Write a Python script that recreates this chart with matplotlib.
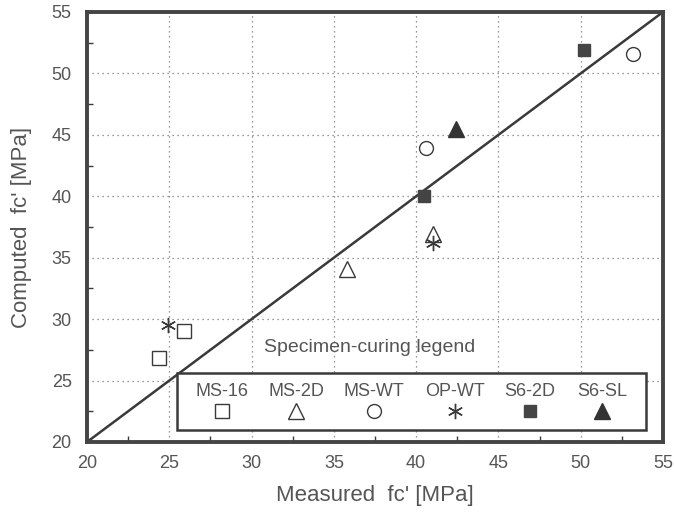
import matplotlib
matplotlib.use("Agg")
import matplotlib.pyplot as plt
from matplotlib.patches import Rectangle
from matplotlib.ticker import MultipleLocator

plt.rcParams['font.family'] = ['Liberation Sans', 'DejaVu Sans']

# Data
series_names = ["MS-16", "MS-2D", "MS-WT", "OP-WT", "S6-2D", "S6-SL"]
ms16_x = [24.4, 25.9]
ms16_y = [26.8, 29.0]
ms2d_x = [35.8, 41.0]
ms2d_y = [34.1, 36.9]
mswt_x = [40.6, 53.2]
mswt_y = [43.9, 51.6]
opwt_x = [24.9, 41.0]
opwt_y = [29.5, 36.2]
s62d_x = [40.5, 50.2]
s62d_y = [40.0, 51.9]
s6sl_x = [42.4]
s6sl_y = [45.5]
line_vals = [20, 55]

dark = "#3a3a3a"
txt = "#555555"

styles = [
    dict(marker='s', mfc='white', mec=dark, ms=9.5, mew=1.0),
    dict(marker='^', mfc='white', mec=dark, ms=11, mew=1.0),
    dict(marker='o', mfc='white', mec=dark, ms=10, mew=1.0),
    dict(marker=(6, 2, 0), mfc='none', mec=dark, ms=11, mew=1.0),
    dict(marker='s', mfc='#444444', mec='#444444', ms=9, mew=1.0),
    dict(marker='^', mfc='#333333', mec='#333333', ms=11, mew=1.0),
]
xs = [ms16_x, ms2d_x, mswt_x, opwt_x, s62d_x, s6sl_x]
ys = [ms16_y, ms2d_y, mswt_y, opwt_y, s62d_y, s6sl_y]

fig = plt.figure(figsize=(6.74, 5.17), dpi=100)
ax = fig.add_axes([87/674, 1-442/517, (663-87)/674, (442-12)/517])

ax.plot(line_vals, line_vals, color=dark, lw=1.8, zorder=2)
for x, y, st in zip(xs, ys, styles):
    ax.plot(x, y, ls='none', zorder=3, **st)

ax.set_xlim(20, 55)
ax.set_ylim(20, 55)
ax.xaxis.set_major_locator(MultipleLocator(5))
ax.yaxis.set_major_locator(MultipleLocator(5))
ax.xaxis.set_minor_locator(MultipleLocator(2.5))
ax.yaxis.set_minor_locator(MultipleLocator(2.5))
ax.grid(True, which='major', ls=(0, (1, 3)), color='#777777', lw=0.9)
ax.tick_params(which='both', direction='in', colors=dark, labelcolor=txt, labelsize=13)
ax.tick_params(which='major', length=0)
ax.tick_params(axis='y', which='major', pad=11)
ax.tick_params(axis='x', which='major', pad=9)
ax.tick_params(which='minor', length=4, width=1)
for s in ax.spines.values():
    s.set_linewidth(2.8)
    s.set_color('#444444')

ax.set_xlabel("Measured  fc' [MPa]", fontsize=16, color=txt, labelpad=10)
ax.set_ylabel("Computed  fc' [MPa]", fontsize=16, color=txt, labelpad=14)

# manual legend
def ax_frac(px, py):
    return ((px - 87) / 576, (442 - py) / 430)

x0, y0 = ax_frac(177, 430)
x1, y1 = ax_frac(646, 373)
ax.add_patch(Rectangle((x0, y0), x1 - x0, y1 - y0, transform=ax.transAxes,
                       fc='white', ec=dark, lw=1.8, zorder=4))
tx, ty = ax_frac(370, 348)
ax.text(tx, ty, "Specimen-curing legend", transform=ax.transAxes, ha='center',
        va='center', fontsize=14, color=txt, zorder=5)
col_px = [222, 296, 374, 455, 530, 602]
for name, cx, st in zip(series_names, col_px, styles):
    lx, ly = ax_frac(cx, 392)
    ax.text(lx, ly, name, transform=ax.transAxes, ha='center', va='center',
            fontsize=13, color=txt, zorder=5)
    mx, my = ax_frac(cx, 411)
    ax.plot([mx], [my], transform=ax.transAxes, ls='none', zorder=5,
            clip_on=False, **st)

fig.savefig("out.png", dpi=100)
